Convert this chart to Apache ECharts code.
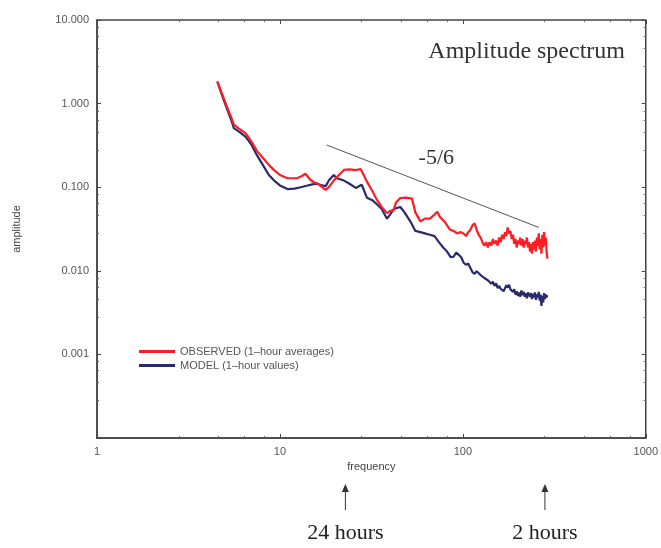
<!DOCTYPE html>
<html>
<head>
<meta charset="utf-8">
<title>Amplitude spectrum</title>
<script src="https://cdn.jsdelivr.net/npm/echarts@6/dist/echarts.min.js"></script>
<style>
    body { margin: 0; background: #fff; }
    #main { width: 661px; height: 548px; }
</style>
</head>
<body>
<div id="main"></div>
<script>
    // [frequency, amplitude]
    var observed = [
        [4.55, 1.83], [4.8, 1.35], [5.1, 0.95], [5.4, 0.7], [5.6, 0.56], [6.0, 0.5], [6.5, 0.44],
        [7.0, 0.35], [7.5, 0.27], [8.0, 0.23], [8.7, 0.185], [9.3, 0.16], [10.0, 0.14], [11.0, 0.128],
        [12.4, 0.128], [13.2, 0.136], [13.8, 0.145], [14.7, 0.122], [15.5, 0.113], [16.0, 0.111],
        [17.0, 0.1], [17.8, 0.093], [18.5, 0.1], [19.7, 0.12], [21, 0.14], [22.4, 0.161], [24, 0.163],
        [26, 0.16], [27.6, 0.165], [28.7, 0.14], [30, 0.115], [32, 0.09], [34, 0.07], [36, 0.058],
        [38.5, 0.049], [40, 0.052], [41.9, 0.053], [43, 0.065], [45.5, 0.074], [49, 0.075], [52.7, 0.073],
        [55, 0.05], [58.6, 0.039], [62, 0.042], [66, 0.042], [70, 0.047], [72.5, 0.051], [75, 0.044],
        [80, 0.038], [85, 0.031], [89, 0.03], [93, 0.028], [97, 0.029], [100.9, 0.028], [104, 0.026],
        [107, 0.029], [110, 0.031], [113, 0.035], [116, 0.037], [119, 0.031], [122, 0.027], [125, 0.025],
        [128, 0.022], [131, 0.02], [134, 0.022], [137, 0.019], [140, 0.022], [143, 0.02], [146, 0.024],
        [149, 0.021], [152, 0.023], [155, 0.02], [158, 0.025], [161, 0.022], [164, 0.027], [167, 0.024],
        [170, 0.029], [173, 0.026], [176, 0.033], [179, 0.028], [182, 0.03], [185, 0.024], [188, 0.027],
        [191, 0.021], [194, 0.024], [197, 0.019], [200, 0.023], [203, 0.021], [206, 0.025], [209, 0.02],
        [212, 0.024], [215, 0.019], [218, 0.023], [221, 0.021], [224, 0.025], [227, 0.019], [230, 0.022],
        [233, 0.017], [236, 0.021], [239, 0.016], [242, 0.022], [245, 0.018], [248, 0.023], [251, 0.017],
        [254, 0.025], [257, 0.02], [260, 0.028], [263, 0.018], [266, 0.024], [269, 0.016], [272, 0.027],
        [275, 0.019], [278, 0.029], [281, 0.02], [284, 0.025], [287, 0.017], [290, 0.014]
    ];
    var model = [
        [4.55, 1.83], [4.8, 1.3], [5.1, 0.9], [5.4, 0.65], [5.6, 0.51], [6.0, 0.46], [6.5, 0.40],
        [7.0, 0.32], [7.5, 0.24], [8.0, 0.19], [8.7, 0.14], [9.3, 0.12], [10.0, 0.105], [11.0, 0.095],
        [12, 0.096], [13, 0.1], [14, 0.104], [15, 0.108], [16, 0.11], [17, 0.105], [17.8, 0.103],
        [18.5, 0.12], [19.7, 0.14], [20.5, 0.128], [22.4, 0.12], [24, 0.11], [26, 0.098], [28, 0.107],
        [28.7, 0.11], [29.9, 0.075], [32, 0.07], [34, 0.062], [36, 0.055], [38.5, 0.042], [40, 0.047],
        [42, 0.055], [45.5, 0.058], [48, 0.05], [52, 0.038], [55, 0.03], [58.6, 0.029], [62, 0.028],
        [66, 0.027], [70, 0.026], [74, 0.022], [78, 0.019], [82, 0.017], [86, 0.0145], [89, 0.0148],
        [92, 0.0165], [95, 0.0155], [98, 0.0145], [101, 0.0125], [104, 0.0118], [107, 0.0122], [110, 0.0108],
        [113, 0.0096], [116, 0.0092], [119, 0.0099], [122, 0.0094], [125, 0.0089], [128, 0.0091], [131, 0.0082],
        [134, 0.0086], [137, 0.0077], [140, 0.0079], [143, 0.007], [146, 0.0074], [149, 0.0066], [152, 0.0071],
        [155, 0.0062], [158, 0.0066], [161, 0.0061], [164, 0.0064], [167, 0.0057], [170, 0.0062], [173, 0.0067],
        [176, 0.0063], [179, 0.0068], [182, 0.006], [185, 0.0063], [188, 0.0056], [191, 0.006], [194, 0.0052],
        [197, 0.0057], [200, 0.005], [203, 0.0055], [206, 0.0049], [209, 0.0058], [212, 0.0051], [215, 0.0056],
        [218, 0.0049], [221, 0.0054], [224, 0.0047], [227, 0.0055], [230, 0.0058], [233, 0.0049], [236, 0.0054],
        [239, 0.0046], [242, 0.0053], [245, 0.0048], [248, 0.0055], [251, 0.0045], [254, 0.0052], [257, 0.0048],
        [260, 0.0056], [263, 0.0044], [266, 0.0052], [269, 0.0038], [272, 0.005], [275, 0.0042], [278, 0.0054],
        [281, 0.0046], [284, 0.0052], [287, 0.0048], [290, 0.0051]
    ];
    var slopeLine = [[18, 0.32], [260, 0.033]];
    var markers = [[22.8, '24 hours'], [281, '2 hours']];

    var chart = echarts.init(document.getElementById('main'));

    var tickStyle = { inside: true, length: 4, lineStyle: { color: '#444' } };
    var minorStyle = { show: true, splitNumber: 5, length: 2, lineStyle: { color: '#666' } };

    var option = {
        animation: false,
        backgroundColor: '#fff',
        grid: { left: 97, right: 14, top: 20, bottom: 110, show: true, borderColor: '#444', borderWidth: 1.5 },
        legend: {
            orient: 'vertical',
            left: 134,
            top: 340,
            icon: 'rect',
            itemWidth: 36,
            itemHeight: 3,
            itemGap: 1,
            data: ['OBSERVED (1\u2013hour averages)', 'MODEL (1\u2013hour values)'],
            textStyle: { fontFamily: 'Liberation Sans', fontSize: 11, color: '#555', lineHeight: 13 }
        },
        xAxis: [{
            type: 'log',
            logBase: 10,
            min: 1,
            max: 1000,
            name: 'frequency',
            nameLocation: 'middle',
            nameGap: 22,
            nameTextStyle: { fontFamily: 'Liberation Sans', fontSize: 11, color: '#444' },
            axisLine: { lineStyle: { color: '#444', width: 1.5 } },
            axisTick: tickStyle,
            minorTick: minorStyle,
            axisLabel: {
                fontFamily: 'Liberation Sans', fontSize: 11, color: '#555', margin: 8,
                formatter: function (v) { return String(v); }
            },
            splitLine: { show: false }
        }, {
            type: 'log',
            logBase: 10,
            min: 1,
            max: 1000,
            position: 'top',
            axisLine: { show: false },
            axisTick: tickStyle,
            minorTick: minorStyle,
            axisLabel: { show: false },
            splitLine: { show: false }
        }],
        yAxis: [{
            type: 'log',
            logBase: 10,
            min: 0.0001,
            max: 10,
            name: 'amplitude',
            nameLocation: 'middle',
            nameGap: 75,
            nameTextStyle: { fontFamily: 'Liberation Sans', fontSize: 11, color: '#444' },
            axisLine: { lineStyle: { color: '#444', width: 1.5 } },
            axisTick: tickStyle,
            minorTick: minorStyle,
            axisLabel: {
                fontFamily: 'Liberation Sans', fontSize: 11, color: '#555', margin: 8,
                formatter: function (v) { return v < 0.0009 ? '' : v.toFixed(3); }
            },
            splitLine: { show: false }
        }, {
            type: 'log',
            logBase: 10,
            min: 0.0001,
            max: 10,
            position: 'right',
            axisLine: { show: false },
            axisTick: tickStyle,
            minorTick: minorStyle,
            axisLabel: { show: false },
            splitLine: { show: false }
        }],
        series: [
            {
                name: 'OBSERVED (1\u2013hour averages)',
                type: 'line',
                data: observed,
                showSymbol: false,
                z: 3,
                lineStyle: { color: '#ff1c24', width: 2.2 },
                itemStyle: { color: '#ff1c24' }
            },
            {
                name: 'MODEL (1\u2013hour values)',
                type: 'line',
                data: model,
                showSymbol: false,
                z: 2,
                lineStyle: { color: '#2b2a6a', width: 2.2 },
                itemStyle: { color: '#2b2a6a' }
            },
            {
                name: 'slope',
                type: 'line',
                data: slopeLine,
                showSymbol: false,
                silent: true,
                lineStyle: { color: '#555', width: 1 }
            }
        ]
    };
    chart.setOption(option);

    // annotations placed through the axes
    var g = [];
    var p = chart.convertToPixel({ gridIndex: 0 }, [71.6, 0.223]);
    g.push({ type: 'text', x: p[0], y: p[1], style: { text: '-5/6', font: '22px "Liberation Serif"', fill: '#333', textAlign: 'center', textVerticalAlign: 'middle' } });
    g.push({ type: 'text', right: 36, top: 40, style: { text: 'Amplitude spectrum', font: '24px "Liberation Serif"', fill: '#333' } });
    markers.forEach(function (m) {
        var x = chart.convertToPixel({ gridIndex: 0 }, [m[0], 1])[0];
        g.push({ type: 'line', shape: { x1: x, y1: 510, x2: x, y2: 488 }, style: { stroke: '#333', lineWidth: 1 } });
        g.push({ type: 'polygon', shape: { points: [[x - 3.5, 492], [x + 3.5, 492], [x, 484]] }, style: { fill: '#333' } });
        g.push({ type: 'text', x: x, y: 533, style: { text: m[1], font: '22px "Liberation Serif"', fill: '#222', textAlign: 'center', textVerticalAlign: 'middle' } });
    });
    chart.setOption({ graphic: g });
</script>
</body>
</html>
